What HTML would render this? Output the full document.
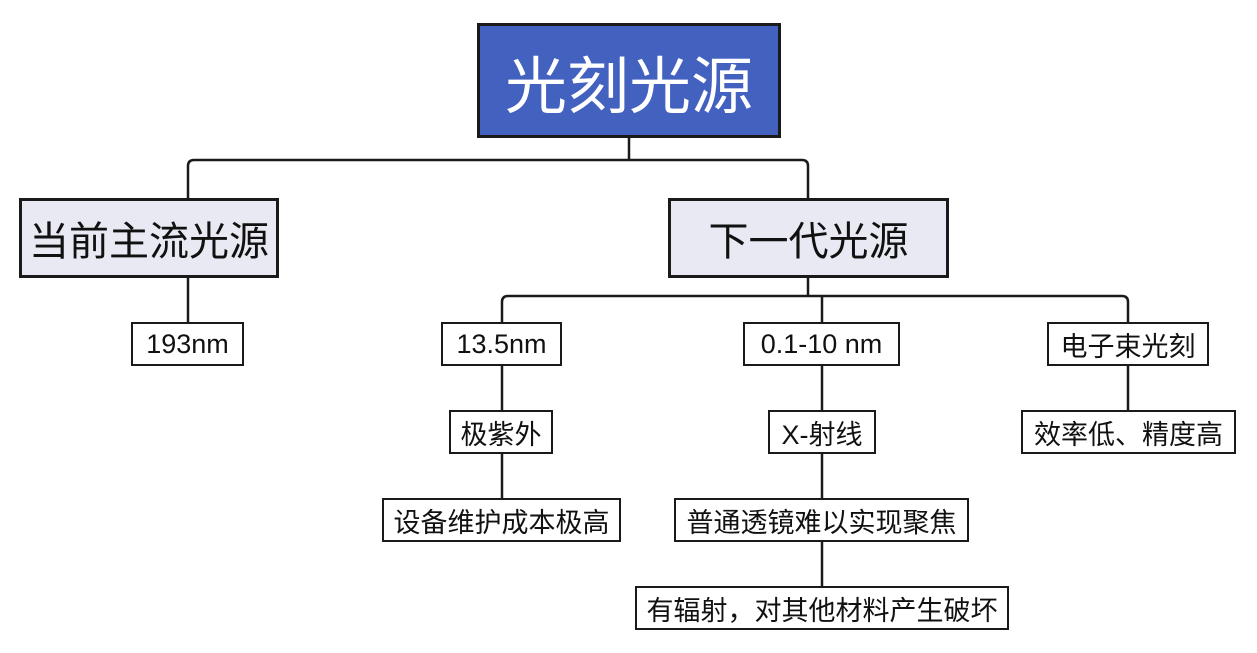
<!DOCTYPE html>
<html><head><meta charset="utf-8"><style>
body{margin:0;width:1257px;height:653px;background:#fff;position:relative;overflow:hidden;font-family:"Liberation Sans","Noto Sans CJK SC",sans-serif;}
.n{position:absolute;box-sizing:border-box;border:2.5px solid #1a1a1a;background:#fff;display:flex;align-items:center;justify-content:center;white-space:nowrap;color:#111;font-size:27px;}
.l1{background:#e8e9f2;font-size:40px;border-width:3px;}
svg{position:absolute;left:0;top:0;}
</style></head><body>
<svg width="1257" height="653">
<g fill="none" stroke="#1a1a1a" stroke-width="2.5">
<path d="M629 138V160M188 198V166q0-6 6-6H802q6 0 6 6V198"/>
<path d="M188 278V322"/>
<path d="M808 278V296M502 322V302q0-6 6-6H1122q6 0 6 6V322M822 296V322"/>
<path d="M502 366V410M502 454V498"/>
<path d="M822 366V410M822 454V498M822 542V586"/>
<path d="M1128 366V410"/>
</g>
</svg>
<div class="n" style="left:477px;top:23px;width:304px;height:115px;background:#4361bf;color:#fff;font-size:62px;border-width:3px;">光刻光源</div>
<div class="n l1" style="left:19px;top:198px;width:260px;height:80px;">当前主流光源</div>
<div class="n l1" style="left:668px;top:198px;width:281px;height:80px;">下一代光源</div>
<div class="n" style="left:131px;top:322px;width:113px;height:44px;">193nm</div>
<div class="n" style="left:441px;top:322px;width:121px;height:44px;">13.5nm</div>
<div class="n" style="left:743px;top:322px;width:157px;height:44px;">0.1-10 nm</div>
<div class="n" style="left:1047px;top:322px;width:162px;height:44px;">电子束光刻</div>
<div class="n" style="left:449px;top:410px;width:104px;height:44px;">极紫外</div>
<div class="n" style="left:768px;top:410px;width:108px;height:44px;">X-射线</div>
<div class="n" style="left:1021px;top:410px;width:215px;height:44px;">效率低、精度高</div>
<div class="n" style="left:382px;top:498px;width:239px;height:44px;">设备维护成本极高</div>
<div class="n" style="left:674px;top:498px;width:295px;height:44px;">普通透镜难以实现聚焦</div>
<div class="n" style="left:635px;top:586px;width:374px;height:44px;">有辐射，对其他材料产生破坏</div>
</body></html>
